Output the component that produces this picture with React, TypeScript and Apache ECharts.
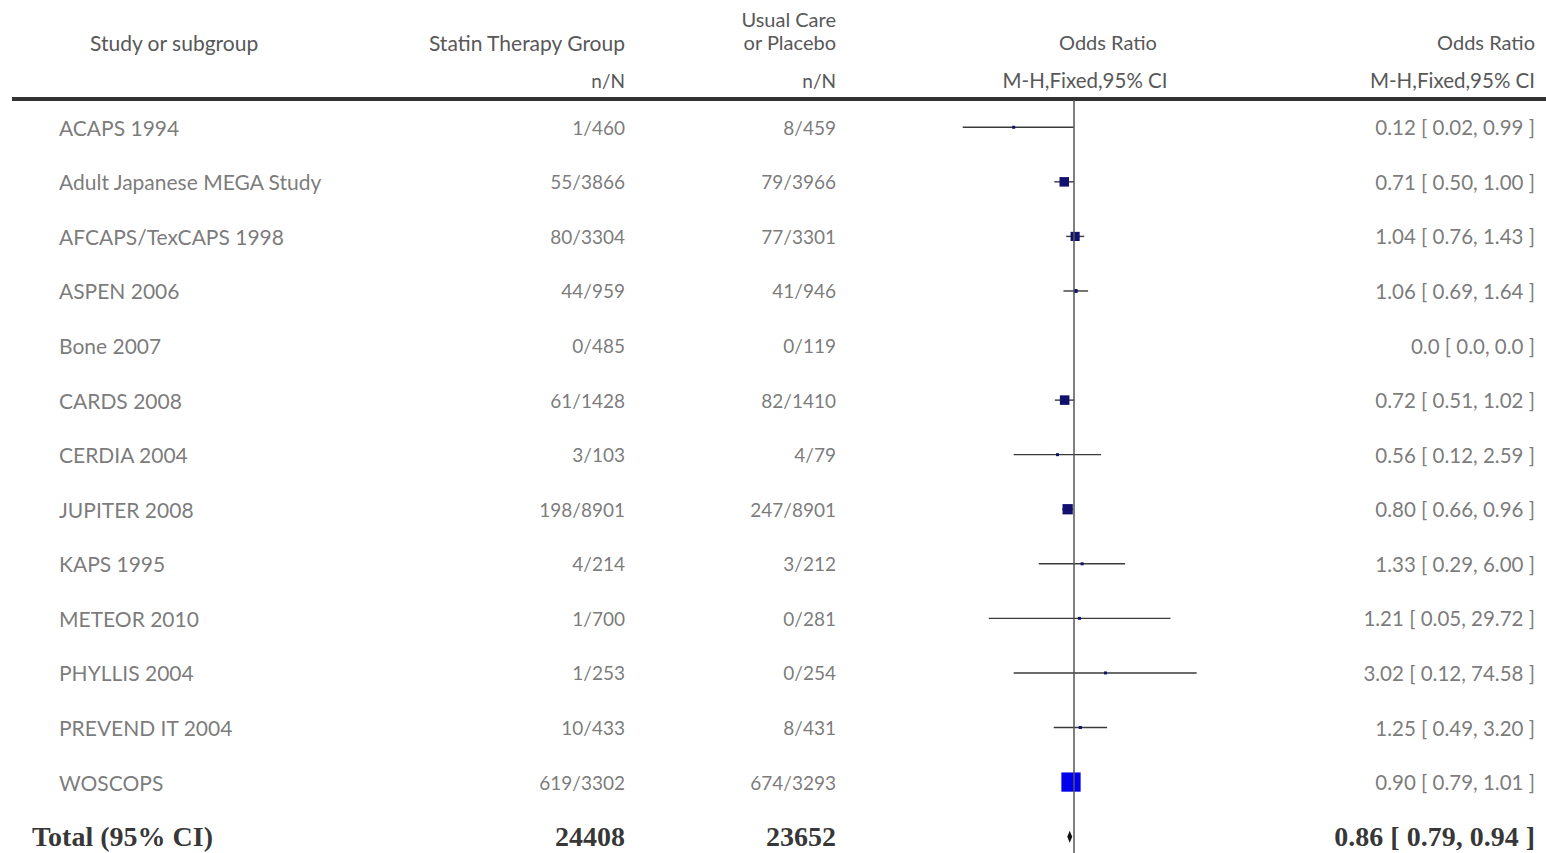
import React, { useEffect, useRef } from "react";
import * as echarts from "echarts";

// ---- data ----
const studies = [
  "ACAPS 1994",
  "Adult Japanese MEGA Study",
  "AFCAPS/TexCAPS 1998",
  "ASPEN 2006",
  "Bone 2007",
  "CARDS 2008",
  "CERDIA 2004",
  "JUPITER 2008",
  "KAPS 1995",
  "METEOR 2010",
  "PHYLLIS 2004",
  "PREVEND IT 2004",
  "WOSCOPS",
];
const statinEvents = [1, 55, 80, 44, 0, 61, 3, 198, 4, 1, 1, 10, 619];
const statinTotal = [460, 3866, 3304, 959, 485, 1428, 103, 8901, 214, 700, 253, 433, 3302];
const careEvents = [8, 79, 77, 41, 0, 82, 4, 247, 3, 0, 0, 8, 674];
const careTotal = [459, 3966, 3301, 946, 119, 1410, 79, 8901, 212, 281, 254, 431, 3293];
const oddsRatio = [0.12, 0.71, 1.04, 1.06, 0, 0.72, 0.56, 0.8, 1.33, 1.21, 3.02, 1.25, 0.9];
const ciLow = [0.02, 0.5, 0.76, 0.69, 0, 0.51, 0.12, 0.66, 0.29, 0.05, 0.12, 0.49, 0.79];
const ciHigh = [0.99, 1.0, 1.43, 1.64, 0, 1.02, 2.59, 0.96, 6.0, 29.72, 74.58, 3.2, 1.01];
// estimated study weights (%)
const weights = [0.6, 12, 11, 2, 0, 12, 0.6, 14, 0.5, 0.3, 0.3, 1.2, 49];
const totalLabel = "Total (95% CI)";
const totalOR = 0.86;
const totalLow = 0.79;
const totalHigh = 0.94;

const fmt = (v: number) => (v === 0 ? "0.0" : v.toFixed(2));
const sum = (a: number[]) => a.reduce((s, v) => s + v, 0);

export default function App() {
  const ref = useRef<HTMLDivElement>(null);
  useEffect(() => {
    if (!ref.current) return;
    const chart = echarts.init(ref.current, null, { renderer: "svg" });
    const FONT = "Lato";
    const GREY = "#585858";
    const n = studies.length;
    const totalRow = n;

    const col = (x: number, vals: string[]) => vals.map((t, i) => [x, i, t]);
    const textSeries = (name: string, data: any[], align: string, extra: any = {}) => ({
      name,
      type: "scatter",
      xAxisIndex: 1,
      yAxisIndex: 1,
      symbolSize: 0,
      silent: true,
      data,
      label: {
        show: true,
        position: "inside",
        align,
        verticalAlign: "middle",
        formatter: (p: any) => p.value[2],
        color: GREY,
        fontFamily: FONT,
        fontSize: 19,
        ...extra,
      },
    });
    const boldStyle = { color: "#000", fontFamily: "Liberation Serif", fontWeight: "bold", fontSize: 28 };

    const forestData = studies.map((_, i) => [i, oddsRatio[i], ciLow[i], ciHigh[i], weights[i]]);

    chart.setOption({
      animation: false,
      grid: [
        { left: 943, width: 262, top: 100, height: 753 },
        { left: 0, width: 1546, top: 100, height: 753 },
      ],
      xAxis: [
        { type: "log", min: 0.01, max: 100, gridIndex: 0, show: false },
        { type: "value", min: 0, max: 1546, gridIndex: 1, show: false },
      ],
      yAxis: [
        { type: "value", min: -0.5, max: 13.3, inverse: true, gridIndex: 0, show: false },
        { type: "value", min: -0.5, max: 13.3, inverse: true, gridIndex: 1, show: false },
      ],
      series: [
        {
          type: "custom",
          xAxisIndex: 0,
          yAxisIndex: 0,
          silent: true,
          data: forestData,
          renderItem: (params: any, api: any) => {
            const row = api.value(0);
            const or = api.value(1);
            const lo = api.value(2);
            const hi = api.value(3);
            const w = api.value(4);
            if (!(or > 0)) return { type: "group", children: [] };
            const pLo = api.coord([lo, row]);
            const pHi = api.coord([hi, row]);
            const p = api.coord([or, row]);
            const size = Math.max(3, Math.sqrt(w) * 2.75);
            return {
              type: "group",
              children: [
                {
                  type: "line",
                  shape: { x1: pLo[0], y1: pLo[1], x2: pHi[0], y2: pHi[1] },
                  style: { stroke: "#3a3a3a", lineWidth: 1.4 },
                },
                {
                  type: "rect",
                  shape: { x: p[0] - size / 2, y: p[1] - size / 2, width: size, height: size },
                  style: { fill: w > 30 ? "#0000ee" : "#10106e" },
                },
              ],
            };
          },
          markLine: {
            silent: true,
            symbol: "none",
            label: { show: false },
            lineStyle: { color: "#555", width: 1.5, type: "solid" },
            data: [{ xAxis: 1 }],
          },
        },
        {
          type: "custom",
          xAxisIndex: 0,
          yAxisIndex: 0,
          silent: true,
          data: [[totalRow, totalOR, totalLow, totalHigh]],
          renderItem: (params: any, api: any) => {
            const row = api.value(0);
            const c = api.coord([api.value(1), row]);
            const l = api.coord([api.value(2), row]);
            const r = api.coord([api.value(3), row]);
            const h = 6;
            return {
              type: "polygon",
              shape: { points: [[l[0], c[1]], [c[0], c[1] - h], [r[0], c[1]], [c[0], c[1] + h]] },
              style: { fill: "#111" },
            };
          },
        },
        textSeries("study", col(59, studies), "left", { fontSize: 21 }),
        textSeries("statin", col(625, studies.map((_, i) => `${statinEvents[i]}/${statinTotal[i]}`)), "right"),
        textSeries("care", col(836, studies.map((_, i) => `${careEvents[i]}/${careTotal[i]}`)), "right"),
        textSeries(
          "or",
          col(1535, studies.map((_, i) => `${fmt(oddsRatio[i])} [ ${fmt(ciLow[i])}, ${fmt(ciHigh[i])} ]`)),
          "right",
          { fontSize: 20.5 }
        ),
        textSeries("totalLabel", [[32, totalRow, totalLabel]], "left", boldStyle),
        textSeries("totalStatin", [[625, totalRow, String(sum(statinTotal))]], "right", boldStyle),
        textSeries("totalCare", [[836, totalRow, String(sum(careTotal))]], "right", boldStyle),
        textSeries(
          "totalOR",
          [[1535, totalRow, `${fmt(totalOR)} [ ${fmt(totalLow)}, ${fmt(totalHigh)} ]`]],
          "right",
          boldStyle
        ),
      ],
      graphic: [
        {
          type: "line",
          silent: true,
          shape: { x1: 12, y1: 99, x2: 1546, y2: 99 },
          style: { stroke: "#333", lineWidth: 4 },
        },
        ...[
          { t: "Study or subgroup", x: 90, y: 42, a: "left", s: 21 },
          { t: "Statin Therapy Group", x: 625, y: 42, a: "right", s: 21 },
          { t: "n/N", x: 625, y: 80, a: "right", s: 19 },
          { t: "Usual Care", x: 836, y: 19, a: "right", s: 20 },
          { t: "or Placebo", x: 836, y: 42, a: "right", s: 20 },
          { t: "n/N", x: 836, y: 80, a: "right", s: 19 },
          { t: "Odds Ratio", x: 1108, y: 42, a: "center", s: 20 },
          { t: "M-H,Fixed,95% CI", x: 1085, y: 80, a: "center", s: 20.5 },
          { t: "Odds Ratio", x: 1535, y: 42, a: "right", s: 20 },
          { t: "M-H,Fixed,95% CI", x: 1535, y: 80, a: "right", s: 20.5 },
        ].map((h) => ({
          type: "text",
          silent: true,
          x: h.x,
          y: h.y,
          style: {
            text: h.t,
            align: h.a,
            verticalAlign: "middle",
            fill: GREY,
            font: `${h.s}px ${FONT}`,
          },
        })),
      ],
    });
    return () => chart.dispose();
  }, []);
  return (
    <div
      ref={ref}
      style={{ position: "fixed", left: 0, top: 0, width: 1546, height: 853, background: "#fff" }}
    />
  );
}
